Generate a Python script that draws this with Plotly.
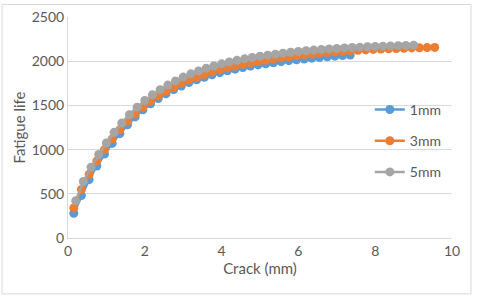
import plotly.graph_objects as go

crack_1mm = [0.15, 0.35, 0.55, 0.75, 0.95, 1.15, 1.35, 1.55, 1.75, 1.95, 2.15, 2.35, 2.55, 2.75,
             2.95, 3.15, 3.35, 3.55, 3.75, 3.95, 4.15, 4.35, 4.55, 4.75, 4.95, 5.15, 5.35, 5.55,
             5.75, 5.95, 6.15, 6.35, 6.55, 6.75, 6.95, 7.15, 7.35]
life_1mm = [280, 480, 660, 815, 950, 1070, 1180, 1280, 1370, 1450, 1518, 1578, 1630, 1678,
            1720, 1758, 1790, 1819, 1846, 1870, 1891, 1910, 1928, 1944, 1958, 1971, 1983, 1995,
            2006, 2016, 2025, 2034, 2042, 2050, 2057, 2064, 2070]

crack_3mm = [0.15, 0.35, 0.55, 0.75, 0.95, 1.15, 1.35, 1.55, 1.75, 1.95, 2.15, 2.35, 2.55, 2.75,
             2.95, 3.15, 3.35, 3.55, 3.75, 3.95, 4.15, 4.35, 4.55, 4.75, 4.95, 5.15, 5.35, 5.55,
             5.75, 5.95, 6.15, 6.35, 6.55, 6.75, 6.95, 7.15, 7.35, 7.55, 7.75, 7.95, 8.15, 8.35,
             8.55, 8.75, 8.95, 9.15, 9.35, 9.55]
life_3mm = [340, 550, 720, 870, 1000, 1120, 1225, 1320, 1405, 1480, 1548, 1606, 1658, 1705,
            1748, 1786, 1819, 1850, 1878, 1903, 1926, 1946, 1965, 1982, 1997, 2011, 2025, 2038,
            2050, 2061, 2071, 2080, 2089, 2097, 2104, 2111, 2117, 2123, 2128, 2133, 2137, 2141,
            2144, 2147, 2150, 2152, 2154, 2156]

crack_5mm = [0.2, 0.4, 0.6, 0.8, 1.0, 1.2, 1.4, 1.6, 1.8, 2.0, 2.2, 2.4, 2.6, 2.8, 3.0, 3.2,
             3.4, 3.6, 3.8, 4.0, 4.2, 4.4, 4.6, 4.8, 5.0, 5.2, 5.4, 5.6, 5.8, 6.0, 6.2, 6.4,
             6.6, 6.8, 7.0, 7.2, 7.4, 7.6, 7.8, 8.0, 8.2, 8.4, 8.6, 8.8, 9.0]
life_5mm = [420, 640, 800, 945, 1075, 1195, 1300, 1395, 1480, 1555, 1620, 1678, 1730, 1777,
            1820, 1857, 1890, 1920, 1946, 1970, 1991, 2010, 2027, 2042, 2056, 2068, 2080, 2091,
            2101, 2110, 2118, 2126, 2133, 2139, 2145, 2150, 2155, 2159, 2163, 2167, 2170, 2173,
            2176, 2178, 2180]

series = [("1mm", crack_1mm, life_1mm, "#5B9BD5"),
          ("3mm", crack_3mm, life_3mm, "#ED7D31"),
          ("5mm", crack_5mm, life_5mm, "#A5A5A5")]

fig = go.Figure()
for name, xs, ys, col in series:
    fig.add_trace(go.Scatter(x=xs, y=ys, name=name, mode="lines+markers",
                             line=dict(color=col, width=2.5),
                             marker=dict(color=col, size=9),
                             legendgroup=name))

PW, PH = 384, 221.5
font = dict(family="Lato, 'Open Sans', sans-serif", color="#595959", size=13)
fig.update_layout(
    width=480, height=297,
    margin=dict(l=68, r=28, t=16.5, b=58.5, autoexpand=False),
    paper_bgcolor="white", plot_bgcolor="white",
    font=font,
    showlegend=True,
    legend=dict(x=0.786, y=0.652, xanchor="left", yanchor="top",
                tracegroupgap=10, font=dict(size=14, color="#595959"),
                bgcolor="rgba(0,0,0,0)", itemwidth=30),
    xaxis=dict(range=[0, 10], dtick=2, showgrid=False, zeroline=False,
               showline=True, linecolor="#D9D9D9", linewidth=1, automargin=False,
               ticks="", tickfont=dict(size=14),
               title=dict(text="Crack (mm)", font=dict(size=15), standoff=2)),
    yaxis=dict(range=[0, 2500], dtick=500, showgrid=True, gridcolor="#D9D9D9",
               zeroline=False, showline=True, linecolor="#D9D9D9", linewidth=1, automargin=False,
               ticks="", tickfont=dict(size=14),
               title=dict(text="Fatigue life", font=dict(size=15), standoff=2)),
    shapes=[dict(type="rect", xref="paper", yref="paper",
                 x0=(2 - 68) / PW, x1=(471 - 68) / PW,
                 y0=(238 - 294) / PH, y1=(238 - 4) / PH,
                 line=dict(color="#D9D9D9", width=1), fillcolor="rgba(0,0,0,0)")],
)
fig.write_html("out.html", config={"displayModeBar": False},
               post_script="document.body.style.margin='0';document.body.style.overflow='hidden';")
